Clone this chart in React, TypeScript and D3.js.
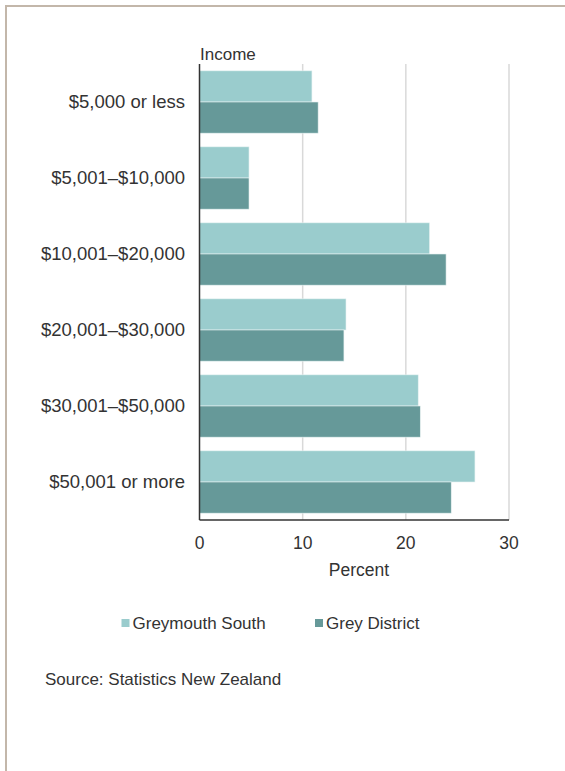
import React, { useEffect, useRef } from 'react';
import * as d3 from 'd3';

const categories = [
  '$5,000 or less',
  '$5,001–$10,000',
  '$10,001–$20,000',
  '$20,001–$30,000',
  '$30,001–$50,000',
  '$50,001 or more',
];
const seriesNames = ['Greymouth South', 'Grey District'];
const greymouthSouth = [10.9, 4.8, 22.3, 14.2, 21.2, 26.7];
const greyDistrict = [11.5, 4.8, 23.9, 14.0, 21.4, 24.4];
const xTicks = [0, 10, 20, 30];
const colors = ['#9acccd', '#669999'];

function App() {
  const chartRef = useRef<SVGSVGElement>(null);

  useEffect(() => {
    const width = 565;
    const height = 771;
    const margin = { top: 64, right: 56, bottom: 251, left: 199.5 };
    const font = '"Liberation Sans", Arial, sans-serif';
    const textColor = '#333';

    const svg = d3.select(chartRef.current);
    svg.selectAll('*').remove();
    svg.attr('width', width).attr('height', height);

    // frame lines (top and left only)
    svg.append('line')
      .attr('x1', 5).attr('x2', width).attr('y1', 6).attr('y2', 6)
      .attr('stroke', '#c3b7aa').attr('stroke-width', 2);
    svg.append('line')
      .attr('x1', 6).attr('x2', 6).attr('y1', 5).attr('y2', height)
      .attr('stroke', '#c3b7aa').attr('stroke-width', 2);

    const x = d3.scaleLinear()
      .domain([0, 30])
      .range([margin.left, width - margin.right]);

    const y = d3.scaleBand()
      .domain(categories)
      .range([margin.top, height - margin.bottom])
      .paddingInner(0.18)
      .paddingOuter(0.09);

    const ySub = d3.scaleBand()
      .domain(seriesNames)
      .range([0, y.bandwidth()]);

    // gridlines
    svg.append('g')
      .selectAll('line')
      .data(xTicks.filter(d => d > 0))
      .enter()
      .append('line')
      .attr('x1', d => x(d)).attr('x2', d => x(d))
      .attr('y1', margin.top).attr('y2', height - margin.bottom)
      .attr('stroke', '#d9d9d9').attr('stroke-width', 1.5);

    const rows = categories.map((c, i) => ({
      cat: c,
      values: [greymouthSouth[i], greyDistrict[i]],
    }));

    const groups = svg.append('g')
      .selectAll('g')
      .data(rows)
      .enter()
      .append('g')
      .attr('transform', d => `translate(0,${y(d.cat)})`);

    groups.selectAll('rect')
      .data(d => d.values.map((v, j) => ({ v, name: seriesNames[j], j })))
      .enter()
      .append('rect')
      .attr('x', x(0))
      .attr('y', d => ySub(d.name)!)
      .attr('width', d => x(d.v) - x(0))
      .attr('height', ySub.bandwidth())
      .attr('fill', d => colors[d.j])
      .attr('stroke', '#e8f2f2')
      .attr('stroke-width', 0.6);

    // axes lines
    svg.append('line')
      .attr('x1', x(0)).attr('x2', x(30))
      .attr('y1', height - margin.bottom).attr('y2', height - margin.bottom)
      .attr('stroke', '#333').attr('stroke-width', 1.5);
    svg.append('line')
      .attr('x1', x(0)).attr('x2', x(0))
      .attr('y1', margin.top).attr('y2', height - margin.bottom)
      .attr('stroke', '#333').attr('stroke-width', 1.5);

    // category labels
    svg.append('g')
      .selectAll('text')
      .data(categories)
      .enter()
      .append('text')
      .attr('x', 185)
      .attr('y', d => y(d)! + y.bandwidth() / 2)
      .attr('dy', '0.35em')
      .attr('text-anchor', 'end')
      .attr('font-family', font)
      .attr('font-size', 18.5)
      .attr('fill', textColor)
      .text(d => d);

    // x tick labels
    svg.append('g')
      .selectAll('text')
      .data(xTicks)
      .enter()
      .append('text')
      .attr('x', d => x(d))
      .attr('y', 549)
      .attr('text-anchor', 'middle')
      .attr('font-family', font)
      .attr('font-size', 17.5)
      .attr('fill', textColor)
      .text(d => d);

    svg.append('text')
      .attr('x', 359).attr('y', 576)
      .attr('text-anchor', 'middle')
      .attr('font-family', font).attr('font-size', 17.5)
      .attr('fill', textColor)
      .text('Percent');

    svg.append('text')
      .attr('x', 200).attr('y', 60)
      .attr('font-family', font).attr('font-size', 17)
      .attr('fill', textColor)
      .text('Income');

    // legend
    const legendX = [121.5, 315];
    const legend = svg.append('g')
      .selectAll('g')
      .data(seriesNames)
      .enter()
      .append('g')
      .attr('transform', (d, i) => `translate(${legendX[i]},619)`);
    legend.append('rect')
      .attr('width', 8).attr('height', 8)
      .attr('fill', (d, i) => colors[i]);
    legend.append('text')
      .attr('x', 11).attr('y', 4)
      .attr('dy', '0.35em')
      .attr('font-family', font).attr('font-size', 17)
      .attr('fill', textColor)
      .text(d => d);

    svg.append('text')
      .attr('x', 45).attr('y', 685)
      .attr('font-family', font).attr('font-size', 17)
      .attr('fill', textColor)
      .text('Source: Statistics New Zealand');
  }, []);

  return (
    <div style={{ position: 'absolute', left: 0, top: 0 }}>
      <svg ref={chartRef} style={{ display: 'block' }}></svg>
    </div>
  );
}

export default App;
